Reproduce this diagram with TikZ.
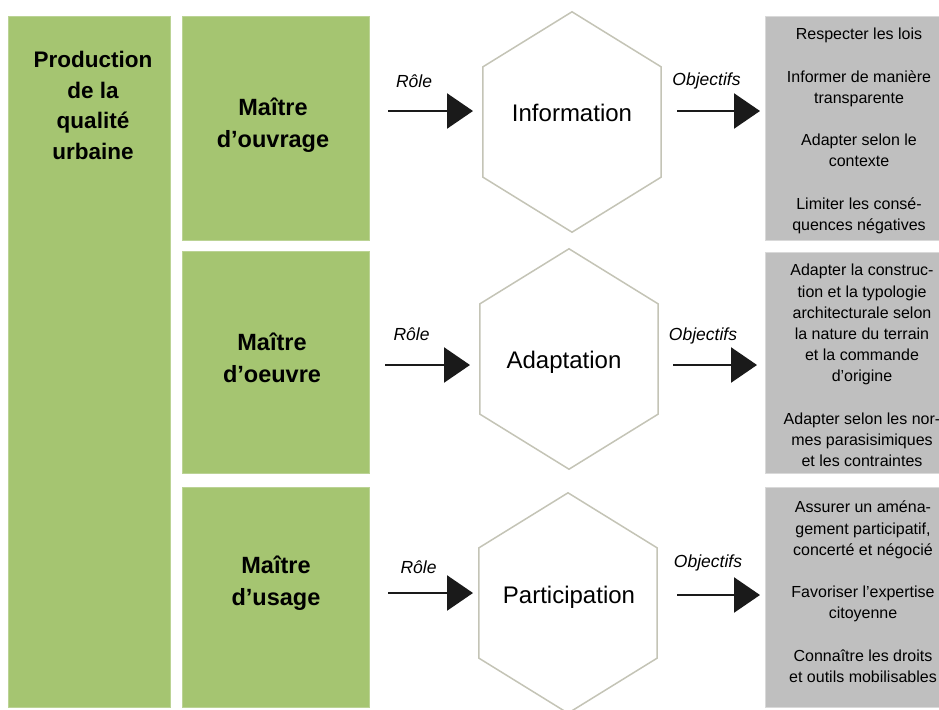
\documentclass[tikz,border=0pt]{standalone}
\usepackage{fontspec}
\setmainfont{Liberation Sans}
\usetikzlibrary{calc,arrows.meta}
\definecolor{boxgreen}{HTML}{A5C571}
\definecolor{boxgray}{HTML}{BFBFBF}
\definecolor{hexline}{HTML}{C4C4B6}
\definecolor{arrowblack}{HTML}{1A1A1A}
\tikzstyle{greenbox} = [rectangle, fill=boxgreen, draw=boxgreen!75!white, line width=1pt, inner sep=0pt]
\tikzstyle{graybox} = [rectangle, fill=boxgray, draw=boxgray!60!white, line width=1pt, inner sep=0pt]
\tikzstyle{hexa} = [rectangle, minimum width=178pt, minimum height=220pt, inner sep=0pt]
\tikzstyle{bigtitle} = [font=\fontsize{22.5}{30.5}\selectfont\bfseries, align=center, inner sep=0pt, anchor=north]
\tikzstyle{maitre} = [font=\fontsize{23.5}{31.5}\selectfont\bfseries, align=center, inner sep=0pt, anchor=north]
\tikzstyle{hextext} = [font=\fontsize{24}{28}\selectfont, inner sep=0pt, anchor=base]
\tikzstyle{objtext} = [font=\fontsize{16}{21.2}\selectfont, align=center, inner sep=0pt, anchor=north]
\tikzstyle{arrlabel} = [font=\fontsize{17.5}{20}\selectfont\itshape, inner sep=0pt, anchor=base]
\tikzstyle{arr} = [line width=2.5pt, draw=arrowblack, -{Triangle[length=26pt,width=35pt]}]

\begin{document}
\begin{tikzpicture}[x=1pt, y=-1pt]
\useasboundingbox (0,0) rectangle (939,709);

\node[greenbox, minimum width=162pt, minimum height=690pt] (prod) at (89,362) {};
\node[bigtitle] (prodtext) at (93,51) {Production\\de la\\qualité\\urbaine};

\node[greenbox, minimum width=187pt, minimum height=223pt] (m1) at (275.5,128.5) {};
\node[greenbox, minimum width=187pt, minimum height=222pt] (m2) at (275.5,362) {};
\node[greenbox, minimum width=187pt, minimum height=220pt] (m3) at (275.5,597) {};
\node[maitre] (m1text) at (273,98) {Maître\\d’ouvrage};
\node[maitre] (m2text) at (272,333) {Maître\\d’oeuvre};
\node[maitre] (m3text) at (276,556) {Maître\\d’usage};

\node[hexa] (h1) at (572,122) {};
\node[hexa] (h2) at (569,359) {};
\node[hexa] (h3) at (568,603) {};
\foreach \h in {h1,h2,h3}
    \draw[hexline, line width=1.5pt, fill=white] (\h.north)
        -- ($(\h.north east)!.25!(\h.south east)$)
        -- ($(\h.north east)!.75!(\h.south east)$)
        -- (\h.south)
        -- ($(\h.north west)!.75!(\h.south west)$)
        -- ($(\h.north west)!.25!(\h.south west)$) -- cycle;
\node[hextext] (t1) at (572,121) {Information};
\node[hextext] (t2) at (564,368) {Adaptation};
\node[hextext] (t3) at (569,603) {Participation};

\node[graybox, minimum width=188pt, minimum height=223pt] (o1) at (859,128.5) {};
\node[graybox, minimum width=188pt, minimum height=221pt] (o2) at (859,362.5) {};
\node[graybox, minimum width=188pt, minimum height=220pt] (o3) at (859,597) {};
\node[objtext] (o1text) at (859,28) {Respecter les lois\\[21.2pt]
    Informer de manière\\transparente\\[21.2pt]
    Adapter selon le\\contexte\\[21.2pt]
    Limiter les consé-\\quences négatives};
\node[objtext] (o2text) at (862,264) {Adapter la construc-\\tion et la typologie\\architecturale selon\\la nature du terrain\\et la commande\\d'origine\\[21.2pt]
    Adapter selon les nor-\\mes parasisimiques\\et les contraintes};
\node[objtext] (o3text) at (863,501) {Assurer un aména-\\gement participatif,\\concerté et négocié\\[21.2pt]
    Favoriser l'expertise\\citoyenne\\[21.2pt]
    Connaître les droits\\et outils mobilisables};

\coordinate (ra1) at (388,111);
\coordinate (rb1) at (473,111);
\coordinate (ra2) at (385,365);
\coordinate (rb2) at (470,365);
\coordinate (ra3) at (388,593);
\coordinate (rb3) at (473,593);
\coordinate (oa1) at (677,111);
\coordinate (ob1) at (760,111);
\coordinate (oa2) at (673,365);
\coordinate (ob2) at (757,365);
\coordinate (oa3) at (677,595);
\coordinate (ob3) at (760,595);
\draw[arr] (ra1) -- (rb1);
\draw[arr] (ra2) -- (rb2);
\draw[arr] (ra3) -- (rb3);
\draw[arr] (oa1) -- (ob1);
\draw[arr] (oa2) -- (ob2);
\draw[arr] (oa3) -- (ob3);
\node[arrlabel] (rl1) at (414,87.5) {Rôle};
\node[arrlabel] (rl2) at (411.5,340.5) {Rôle};
\node[arrlabel] (rl3) at (418.5,573.5) {Rôle};
\node[arrlabel] (ol1) at (706.5,85.5) {Objectifs};
\node[arrlabel] (ol2) at (703,340) {Objectifs};
\node[arrlabel] (ol3) at (708,567) {Objectifs};
\end{tikzpicture}
\end{document}
